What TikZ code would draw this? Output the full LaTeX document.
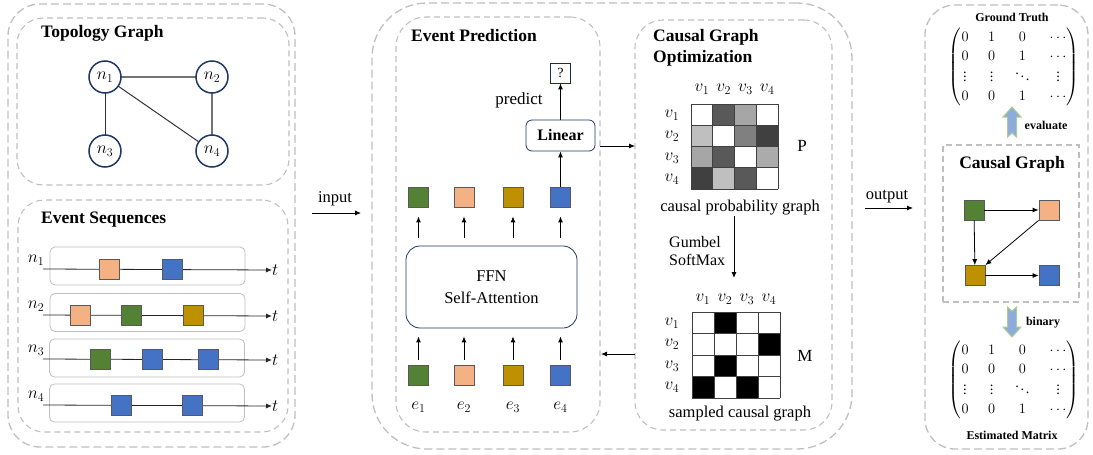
\documentclass[tikz,border=0pt]{standalone}
\usepackage{amsmath}
\usepackage{fontspec}
\setmainfont{Liberation Serif}
\usetikzlibrary{arrows.meta,calc}
\definecolor{cgreen}{HTML}{548235}
\definecolor{csalmon}{HTML}{F4B183}
\definecolor{cgold}{HTML}{BF9000}
\definecolor{cblue}{HTML}{4472C4}
\definecolor{navy}{HTML}{203864}
\definecolor{dashgray}{HTML}{BFBFBF}
\definecolor{arrfill}{HTML}{8FAADC}
\definecolor{arrline}{HTML}{A9D18E}
\tikzset{
  outerbox/.style={draw=dashgray, line width=1.3pt, dash pattern=on 8pt off 4pt},
  innerbox/.style={draw=dashgray, line width=1.1pt, dash pattern=on 6pt off 4pt},
  evbox/.style={draw=black!65, line width=0.8pt, minimum size=20pt, inner sep=0pt},
  evG/.style={evbox, fill=cgreen},
  evS/.style={evbox, fill=csalmon},
  evO/.style={evbox, fill=cgold},
  evB/.style={evbox, fill=cblue},
  arr/.style={-{Latex[length=6pt,width=5pt]}, line width=0.9pt},
  topo/.style={circle, draw=navy, line width=1.5pt, minimum size=32pt, inner sep=0pt, fill=white, font=\fontsize{17.28}{20}\selectfont},
  seqbox/.style={draw=black!25, rounded corners=5pt, line width=0.8pt, minimum width=195pt, minimum height=38pt},
  titletxt/.style={font=\fontsize{17.5}{21}\selectfont\bfseries, anchor=west, inner sep=0pt},
  txt/.style={font=\fontsize{16.5}{20}\selectfont, inner sep=0pt},
  mathtxt/.style={font=\fontsize{17.28}{20}\selectfont, inner sep=0pt},
  smallbold/.style={font=\fontsize{12}{14}\selectfont\bfseries, inner sep=0pt},
  matxt/.style={font=\fontsize{14.4}{17}\selectfont, inner sep=0pt},
}
\begin{document}
\begin{tikzpicture}[x=1pt,y=-1pt]
\useasboundingbox (0,0) rectangle (1093,455);

% ---------------- containers ----------------
\node[outerbox, rounded corners=32pt, minimum width=287pt, minimum height=443pt] (L) at (151.5,225.5) {};
\node[innerbox, rounded corners=26pt, minimum width=272pt, minimum height=167pt] (T) at (153,101.5) {};
\node[innerbox, rounded corners=26pt, minimum width=270pt, minimum height=232pt] (S) at (153,316) {};
\node[outerbox, rounded corners=55pt, minimum width=480pt, minimum height=446pt] (Mo) at (612,226) {};
\node[innerbox, rounded corners=30pt, minimum width=204pt, minimum height=415pt] (EP) at (498,224.5) {};
\node[innerbox, rounded corners=28pt, minimum width=197pt, minimum height=410pt] (CGO) at (733.5,225) {};
\node[outerbox, rounded corners=30pt, minimum width=163pt, minimum height=444pt] (R) at (1006.5,227) {};
\node[innerbox, minimum width=136pt, minimum height=157pt] (CG) at (1011,223.5) {};

% ---------------- topology graph ----------------
\node[titletxt] (tTopo) at (41,33) {Topology Graph};
\coordinate (c1) at (105,77);
\coordinate (c2) at (212,77);
\coordinate (c3) at (105,151);
\coordinate (c4) at (212,151);
\draw[black!55, line width=1.4pt] (c1) -- (c2);
\draw[black!80, line width=1pt] (c1) -- (c3);
\draw[black!80, line width=1pt] (c1) -- (c4);
\draw[black!55, line width=1.4pt] (c2) -- (c4);
\node[topo] (n1) at (c1) {$n_1$};
\node[topo] (n2) at (c2) {$n_2$};
\node[topo] (n3) at (c3) {$n_3$};
\node[topo] (n4) at (c4) {$n_4$};

% ---------------- event sequences ----------------
\node[titletxt] (tSeq) at (41,220) {Event Sequences};
\node[seqbox] (r1) at (147.5,266) {};
\node[seqbox] (r2) at (147.5,312.5) {};
\node[seqbox] (r3) at (147,358) {};
\node[seqbox] (r4) at (147,403) {};
\foreach \i/\yy in {1/269,2/315,3/359,4/405}{
  \coordinate (s\i) at (43,\yy);
  \node[mathtxt, anchor=west] (t\i) at (272,\yy+1) {$t$};
  \node[mathtxt] (ln\i) at (36,\yy-9) {$n_\i$};
  \draw[arr, black!85, line width=0.8pt] (s\i) -- (t\i.west);
}
\node[evS] (q11) at (109,269) {};
\node[evB] (q12) at (172,269) {};
\node[evS] (q21) at (80,315) {};
\node[evG] (q22) at (131,315) {};
\node[evO] (q23) at (193,315) {};
\node[evG] (q31) at (100,359) {};
\node[evB] (q32) at (152,359) {};
\node[evB] (q33) at (208,359) {};
\node[evB] (q41) at (121,405) {};
\node[evB] (q42) at (192,405) {};

% ---------------- input arrow ----------------
\coordinate (inA) at (312,213);
\coordinate (inB) at (361,213);
\draw[arr] (inA) -- (inB);
\node[txt] (tin) at (335,199) {input};

% ---------------- event prediction ----------------
\node[titletxt] (tEP) at (411,36) {Event Prediction};
\node[draw=navy, line width=0.8pt, rounded corners=14pt, minimum width=171pt, minimum height=82pt, align=center, txt] (ffn) at (491.5,287) {FFN\\[2pt]Self-Attention};
\node[draw=navy, line width=0.8pt, rounded corners=6pt, minimum width=69pt, minimum height=31pt, font=\fontsize{16}{19}\selectfont\bfseries] (lin) at (560.5,135.5) {Linear};
\node[draw=navy!80!black, line width=0.8pt, minimum size=20pt, inner sep=0pt, font=\fontsize{14}{16}\selectfont] (qm) at (560.5,73) {?};
\node[txt, font=\fontsize{17}{20}\selectfont] (tpred) at (519,100) {predict};
\foreach \k/\xx/\st in {1/418.5/evG,2/464/evS,3/513/evO,4/560.5/evB}{
  \node[\st] (a\k) at (\xx,197) {};
  \node[\st] (b\k) at (\xx,375.5) {};
  \node[mathtxt] (e\k) at (\xx,407) {$e_\k$};
  \draw[arr, shorten <=5pt, shorten >=8pt] (b\k.north) -- (b\k.north |- ffn.south);
  \draw[arr, shorten <=8pt, shorten >=9pt] (a\k.south |- ffn.north) -- (a\k.south);
}
\draw[arr] (a4.north) -- (lin.south);
\draw[arr] (lin.north) -- (qm.south);

\coordinate (lo1) at (600,146);
\coordinate (lo2) at (635,146);
\draw[arr] (lo1) -- (lo2);
\coordinate (ba1) at (635,354);
\coordinate (ba2) at (601,354);
\draw[arr] (ba1) -- (ba2);

% ---------------- causal graph optimization ----------------
\node[titletxt, align=left] (tCGO) at (653,47.5) {Causal Graph\\Optimization};
% P matrix
\foreach \r/\c/\v in {0/0/0,0/1/65,0/2/35,0/3/0,
                      1/0/25,1/1/0,1/2/50,1/3/75,
                      2/0/35,2/1/65,2/2/0,2/3/33,
                      3/0/75,3/1/25,3/2/65,3/3/0}{
  \fill[black!\v] (691+\c*21.75,104+\r*21.25) rectangle ++(21.75,21.25);
}
\foreach \i in {0,...,4}{
  \draw[black!75, line width=0.9pt] (691+\i*21.75,104) -- (691+\i*21.75,189);
  \draw[black!75, line width=0.9pt] (691,104+\i*21.25) -- (778,104+\i*21.25);
}
\foreach \c/\k in {0/1,1/2,2/3,3/4}{
  \node[mathtxt] (pc\k) at (702+\c*21.75,89) {$v_\k$};
  \node[mathtxt] (pr\k) at (672,115+\c*21.5) {$v_\k$};
}
\node[txt, font=\fontsize{17}{20}\selectfont] (tP) at (802,146) {P};
\node[txt] (tcpg) at (740,208) {causal probability graph};

\coordinate (gA) at (734,216);
\coordinate (gB) at (734,278);
\draw[arr] (gA) -- (gB);
\node[txt, font=\fontsize{16}{19}\selectfont, align=left, anchor=west] (tgum) at (669,251.5) {Gumbel\\[-1pt]SoftMax};

% M matrix
\foreach \r/\c in {0/1,1/3,2/1,3/0,3/2}{
  \fill[black] (692+\c*22,312+\r*21.5) rectangle ++(22,21.5);
}
\foreach \i in {0,...,4}{
  \draw[black!75, line width=0.9pt] (692+\i*22,312) -- (692+\i*22,398);
  \draw[black!75, line width=0.9pt] (692,312+\i*21.5) -- (780,312+\i*21.5);
}
\foreach \c/\k in {0/1,1/2,2/3,3/4}{
  \node[mathtxt] (mc\k) at (703+\c*22,299) {$v_\k$};
  \node[mathtxt] (mr\k) at (672,323+\c*21.5) {$v_\k$};
}
\node[txt, font=\fontsize{17}{20}\selectfont] (tM) at (805,356) {M};
\node[txt] (tscg) at (740,414) {sampled causal graph};

% ---------------- output ----------------
\coordinate (oA) at (865,208);
\coordinate (oB) at (913,208);
\draw[arr] (oA) -- (oB);
\node[txt] (tout) at (887,197) {output};

% ---------------- right panel ----------------
\node[smallbold] (tGT) at (1012,17) {Ground Truth};
\node[matxt] (gt) at (1014,67) {\arraycolsep=9.75pt\renewcommand{\arraystretch}{1.12}$\begin{pmatrix}0&1&0&\cdots\\0&0&1&\cdots\\\vdots&\vdots&\ddots&\vdots\\0&0&1&\cdots\end{pmatrix}$};
\fill[arrfill, draw=arrline, line width=1pt] (1012,107) -- (1021,117) -- (1016.5,117) -- (1016.5,137) -- (1012,133) -- (1007.5,137) -- (1007.5,117) -- (1003,117) -- cycle;
\node[smallbold] (tev) at (1046,125) {evaluate};

\node[font=\fontsize{17.5}{21}\selectfont\bfseries, inner sep=0pt] (tCG) at (1012,164) {Causal Graph};
\node[evG] (cg1) at (974,210) {};
\node[evS] (cg2) at (1049,210) {};
\node[evO] (cg3) at (975,275.5) {};
\node[evB] (cg4) at (1049,275.5) {};
\draw[arr, line width=0.8pt] (cg1) -- (cg2);
\draw[arr, line width=0.8pt] (cg1) -- (cg3);
\draw[arr, line width=0.8pt] (cg2.south west) -- (cg3.north east);
\draw[arr, line width=0.8pt] (cg3) -- (cg4);

\fill[arrfill, draw=arrline, line width=1pt] (1012,337) -- (1021,327) -- (1016.5,327) -- (1016.5,307) -- (1012,311) -- (1007.5,307) -- (1007.5,327) -- (1003,327) -- cycle;
\node[smallbold] (tbin) at (1043,323) {binary};
\node[matxt] (em) at (1014,380) {\arraycolsep=9.75pt\renewcommand{\arraystretch}{1.12}$\begin{pmatrix}0&1&0&\cdots\\0&0&0&\cdots\\\vdots&\vdots&\ddots&\vdots\\0&0&1&\cdots\end{pmatrix}$};
\node[smallbold] (tEM) at (1012,435) {Estimated Matrix};
\end{tikzpicture}
\end{document}
